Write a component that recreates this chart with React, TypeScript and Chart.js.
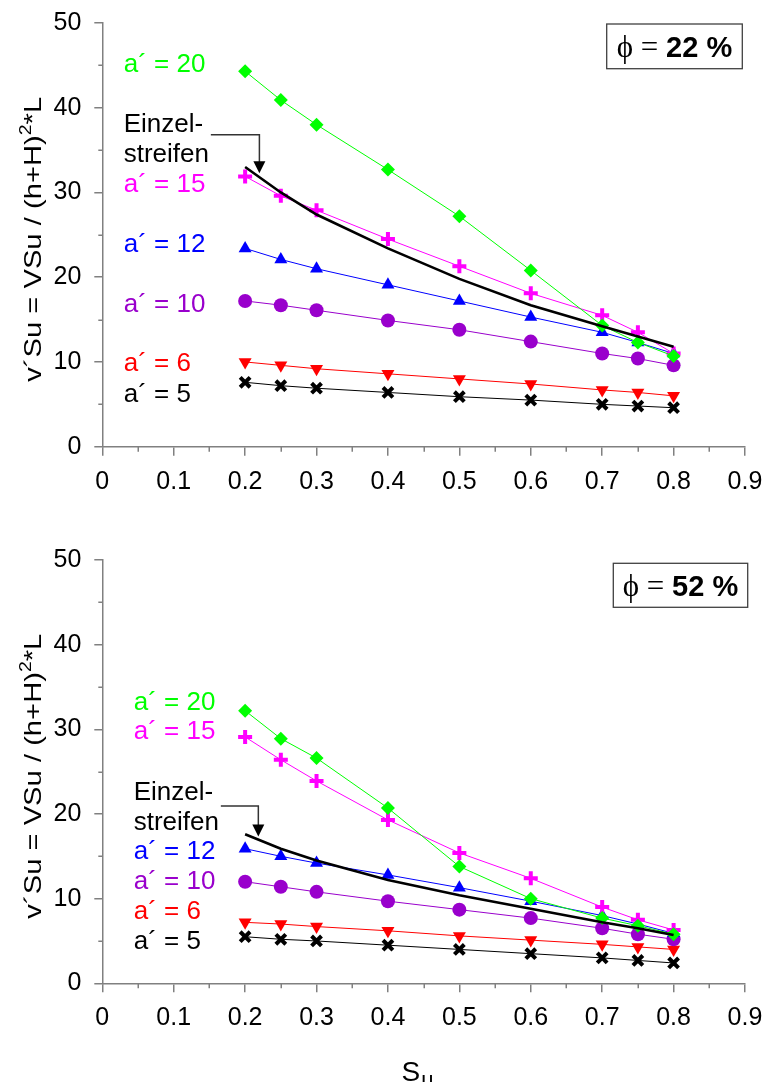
import React, { useEffect, useRef } from 'react';
import { Chart, registerables } from 'chart.js';

Chart.register(...registerables);

// ---------- data ----------
const suValues = [0.2, 0.25, 0.3, 0.4, 0.5, 0.6, 0.7, 0.75, 0.8];
const xTickValues = [0, 0.1, 0.2, 0.3, 0.4, 0.5, 0.6, 0.7, 0.8, 0.9];
const yTickValues = [0, 10, 20, 30, 40, 50];
const xMinorTicks = [0.05, 0.15, 0.25, 0.35, 0.45, 0.55, 0.65, 0.75, 0.85];
const yMinorTicks = [5, 15, 25, 35, 45];

const seriesNames = ['Einzelstreifen', 'a´ = 20', 'a´ = 15', 'a´ = 12', 'a´ = 10', 'a´ = 6', 'a´ = 5'];

// phi = 22 %
const top_einzel = [33.0, 30.0, 27.4, 23.4, 19.8, 16.7, 14.2, 13.0, 11.8];
const top_a20 = [44.3, 40.9, 38.0, 32.7, 27.2, 20.8, 14.3, 12.3, 10.7];
const top_a15 = [31.9, 29.6, 27.9, 24.5, 21.3, 18.1, 15.5, 13.5, 11.0];
const top_a12 = [23.4, 22.1, 21.0, 19.1, 17.2, 15.3, 13.5, 12.3, 11.0];
const top_a10 = [17.2, 16.7, 16.1, 14.9, 13.8, 12.4, 11.0, 10.4, 9.6];
const top_a6 = [10.0, 9.6, 9.2, 8.6, 8.0, 7.4, 6.7, 6.4, 6.0];
const top_a5 = [7.6, 7.2, 6.9, 6.4, 5.9, 5.5, 5.0, 4.8, 4.6];

// phi = 52 %
const bot_einzel = [17.6, 15.9, 14.5, 12.2, 10.4, 8.8, 7.2, 6.5, 5.7];
const bot_a20 = [32.2, 28.9, 26.6, 20.7, 13.8, 10.0, 7.7, 6.8, 5.8];
const bot_a15 = [29.1, 26.4, 23.9, 19.3, 15.4, 12.4, 9.0, 7.5, 6.3];
const bot_a12 = [15.9, 15.0, 14.2, 12.8, 11.3, 9.7, 8.0, 7.0, 5.9];
const bot_a10 = [12.0, 11.4, 10.8, 9.7, 8.7, 7.7, 6.5, 5.8, 5.2];
const bot_a6 = [7.2, 7.0, 6.7, 6.2, 5.6, 5.1, 4.6, 4.3, 4.0];
const bot_a5 = [5.5, 5.2, 5.0, 4.5, 4.0, 3.5, 3.0, 2.7, 2.4];

// ---------- styles ----------
const SANS = '"Liberation Sans", Arial, sans-serif';
const SERIF = '"Liberation Serif", "DejaVu Serif", serif';
const AXIS_COLOR = '#808080';
const C_GREEN = '#00ff00';
const C_MAGENTA = '#ff00ff';
const C_BLUE = '#0000ff';
const C_PURPLE = '#9900cc';
const C_RED = '#ff0000';
const C_BLACK = '#000000';

const seriesStyles = [
  { color: C_BLACK, style: 'circle', radius: 0, bw: 0, rot: 0, lw: 2.6 },
  { color: C_GREEN, style: 'rectRot', radius: 7, bw: 0, rot: 0, lw: 1 },
  { color: C_MAGENTA, style: 'cross', radius: 7, bw: 4, rot: 0, lw: 1 },
  { color: C_BLUE, style: 'triangle', radius: 7.5, bw: 0, rot: 0, lw: 1 },
  { color: C_PURPLE, style: 'circle', radius: 7, bw: 0, rot: 0, lw: 1 },
  { color: C_RED, style: 'triangle', radius: 7.5, bw: 0, rot: 180, lw: 1 },
  { color: C_BLACK, style: 'crossRot', radius: 7, bw: 4, rot: 0, lw: 1 },
];

type Label = { text: string; color: string; x: number; y: number };
type Panel = {
  height: number;
  padTop: number;
  xAxisHeight: number;
  series: number[][];
  labels: Label[];
  arrow: { x1: number; x2: number; y1: number; y2: number };
  phiValue: string;
  box: { dx: number; dy: number; w: number; h: number };
  showXTitle: boolean;
};

const topPanel: Panel = {
  height: 540,
  padTop: 23,
  xAxisHeight: 93.3,
  series: [top_einzel, top_a20, top_a15, top_a12, top_a10, top_a6, top_a5],
  labels: [
    { text: 'a´ = 20', color: C_GREEN, x: 0.03, y: 44.25 },
    { text: 'Einzel-', color: C_BLACK, x: 0.03, y: 37.17 },
    { text: 'streifen', color: C_BLACK, x: 0.03, y: 33.63 },
    { text: 'a´ = 15', color: C_MAGENTA, x: 0.03, y: 30.09 },
    { text: 'a´ = 12', color: C_BLUE, x: 0.03, y: 23.01 },
    { text: 'a´ = 10', color: C_PURPLE, x: 0.03, y: 15.93 },
    { text: 'a´ = 6', color: C_RED, x: 0.03, y: 8.97 },
    { text: 'a´ = 5', color: C_BLACK, x: 0.03, y: 5.31 },
  ],
  arrow: { x1: 0.152, x2: 0.22, y1: 36.82, y2: 32.26 },
  phiValue: '22 %',
  box: { dx: -2.7, dy: 1, w: 135.6, h: 44.7 },
  showXTitle: false,
};

const bottomPanel: Panel = {
  height: 542,
  padTop: 20,
  xAxisHeight: 98.7,
  series: [bot_einzel, bot_a20, bot_a15, bot_a12, bot_a10, bot_a6, bot_a5],
  labels: [
    { text: 'a´ = 20', color: C_GREEN, x: 0.044, y: 32.29 },
    { text: 'a´ = 15', color: C_MAGENTA, x: 0.044, y: 28.82 },
    { text: 'Einzel-', color: C_BLACK, x: 0.044, y: 21.64 },
    { text: 'streifen', color: C_BLACK, x: 0.044, y: 18.16 },
    { text: 'a´ = 12', color: C_BLUE, x: 0.044, y: 14.69 },
    { text: 'a´ = 10', color: C_PURPLE, x: 0.044, y: 11.13 },
    { text: 'a´ = 6', color: C_RED, x: 0.044, y: 7.61 },
    { text: 'a´ = 5', color: C_BLACK, x: 0.044, y: 4.05 },
  ],
  arrow: { x1: 0.166, x2: 0.2185, y1: 20.95, y2: 17.35 },
  phiValue: '52 %',
  box: { dx: 2.7, dy: 3.3, w: 134.4, h: 44 },
  showXTitle: true,
};

const Y_TITLE_LENGTH = 285;

function annotPlugin(panel: Panel) {
  return {
    id: 'annot',
    afterDraw(chart: any) {
      const { ctx, chartArea } = chart;
      const xs = chart.scales.x;
      const ys = chart.scales.y;
      ctx.save();
      // minor ticks
      ctx.strokeStyle = AXIS_COLOR;
      ctx.lineWidth = 1.5;
      xMinorTicks.forEach((v) => {
        const px = Math.round(xs.getPixelForValue(v)) + 0.25;
        ctx.beginPath();
        ctx.moveTo(px, chartArea.bottom);
        ctx.lineTo(px, chartArea.bottom + 5);
        ctx.stroke();
      });
      yMinorTicks.forEach((v) => {
        const py = Math.round(ys.getPixelForValue(v)) + 0.25;
        ctx.beginPath();
        ctx.moveTo(chartArea.left, py);
        ctx.lineTo(chartArea.left - 4, py);
        ctx.stroke();
      });

      // series labels
      ctx.font = `26px ${SANS}`;
      ctx.textBaseline = 'alphabetic';
      ctx.textAlign = 'left';
      panel.labels.forEach((l) => {
        ctx.fillStyle = l.color;
        ctx.fillText(l.text, xs.getPixelForValue(l.x), ys.getPixelForValue(l.y));
      });

      // arrow
      const ax1 = xs.getPixelForValue(panel.arrow.x1);
      const ax2 = xs.getPixelForValue(panel.arrow.x2);
      const ay1 = ys.getPixelForValue(panel.arrow.y1);
      const ay2 = ys.getPixelForValue(panel.arrow.y2);
      ctx.strokeStyle = '#333333';
      ctx.lineWidth = 1.5;
      ctx.beginPath();
      ctx.moveTo(ax1, ay1);
      ctx.lineTo(ax2, ay1);
      ctx.lineTo(ax2, ay2 - 10);
      ctx.stroke();
      ctx.fillStyle = '#000000';
      ctx.beginPath();
      ctx.moveTo(ax2 - 6, ay2 - 12);
      ctx.lineTo(ax2 + 6, ay2 - 12);
      ctx.lineTo(ax2, ay2);
      ctx.closePath();
      ctx.fill();

      // phi box
      const bx = chartArea.right + panel.box.dx - panel.box.w;
      const by = chartArea.top + panel.box.dy;
      ctx.fillStyle = '#ffffff';
      ctx.fillRect(bx, by, panel.box.w, panel.box.h);
      ctx.strokeStyle = '#404040';
      ctx.lineWidth = 1.3;
      ctx.strokeRect(bx, by, panel.box.w, panel.box.h);
      const part1 = 'ϕ = ';
      const part2 = panel.phiValue;
      const f1 = `31px ${SERIF}`;
      const f2 = `bold 29px ${SANS}`;
      ctx.font = f1;
      const w1 = ctx.measureText(part1).width;
      ctx.font = f2;
      const w2 = ctx.measureText(part2).width;
      const tx = bx + (panel.box.w - w1 - w2) / 2;
      const tyBase = by + panel.box.h / 2 + 10.5;
      ctx.fillStyle = '#000000';
      ctx.font = f1;
      ctx.fillText(part1, tx, tyBase);
      ctx.font = f2;
      ctx.fillText(part2, tx + w1, tyBase);

      // y-axis title (rotated, with superscript)
      const parts = [
        { t: 'v´Su = VSu / (h+H)', size: 24, dy: 0 },
        { t: '2', size: 16, dy: -10 },
        { t: '*L', size: 24, dy: 0 },
      ];
      let total = 0;
      const widths = parts.map((p) => {
        ctx.font = `${p.size}px ${SANS}`;
        const w = ctx.measureText(p.t).width;
        total += w;
        return w;
      });
      const stretch = Y_TITLE_LENGTH / total;
      ctx.save();
      ctx.translate(41, (chartArea.top + chartArea.bottom) / 2 + 4.5);
      ctx.rotate(-Math.PI / 2);
      ctx.scale(stretch, 1);
      let cx = -total / 2;
      parts.forEach((p, i) => {
        ctx.font = `${p.size}px ${SANS}`;
        ctx.fillText(p.t, cx, p.dy);
        cx += widths[i];
      });
      ctx.restore();

      // x-axis title
      if (panel.showXTitle) {
        const sx = xs.getPixelForValue(0.419);
        ctx.font = `28px ${SANS}`;
        ctx.fillText('S', sx, chart.height - 1);
        const sw = ctx.measureText('S').width;
        ctx.font = `22px ${SANS}`;
        ctx.fillText('u', sx + sw + 1, chart.height + 5);
      }
      ctx.restore();
    },
  };
}

function makeConfig(panel: Panel): any {
  const datasets = panel.series.map((vals, i) => {
    const s = seriesStyles[i];
    return {
      label: seriesNames[i],
      data: suValues.map((x, j) => ({ x, y: vals[j] })),
      borderColor: s.color,
      backgroundColor: s.color,
      borderWidth: s.lw,
      pointStyle: s.style,
      pointRadius: s.radius,
      pointBorderWidth: s.bw,
      pointBorderColor: s.color,
      pointBackgroundColor: s.color,
      pointRotation: s.rot,
      tension: 0,
      fill: false,
      clip: false,
    };
  });
  return {
    type: 'line',
    data: { datasets },
    options: {
      animation: false,
      responsive: false,
      maintainAspectRatio: false,
      events: [],
      layout: { padding: { left: 0, right: 22, top: panel.padTop, bottom: 0 } },
      plugins: { legend: { display: false }, tooltip: { enabled: false } },
      scales: {
        x: {
          type: 'linear',
          min: 0,
          max: 0.9,
          afterBuildTicks: (scale: any) => {
            scale.ticks = xTickValues.map((v) => ({ value: v }));
          },
          afterFit: (scale: any) => {
            scale.height = panel.xAxisHeight;
            scale.paddingLeft = 0;
            scale.paddingRight = 0;
          },
          ticks: {
            autoSkip: false,
            maxRotation: 0,
            padding: 11,
            color: '#000000',
            font: { family: SANS, size: 25 },
            callback: (v: number) => String(Math.round(v * 10) / 10),
          },
          grid: { drawOnChartArea: false, drawTicks: true, tickLength: 9, color: AXIS_COLOR, lineWidth: 1.5 },
          border: { display: true, color: AXIS_COLOR, width: 1.5 },
        },
        y: {
          type: 'linear',
          min: 0,
          max: 50,
          afterBuildTicks: (scale: any) => {
            scale.ticks = yTickValues.map((v) => ({ value: v }));
          },
          afterFit: (scale: any) => {
            scale.width = 102.3;
            scale.paddingTop = 0;
            scale.paddingBottom = 0;
          },
          ticks: {
            autoSkip: false,
            padding: 13,
            color: '#000000',
            font: { family: SANS, size: 25 },
            callback: (v: number) => String(v),
          },
          grid: { drawOnChartArea: false, drawTicks: true, tickLength: 8, color: AXIS_COLOR, lineWidth: 1.5 },
          border: { display: true, color: AXIS_COLOR, width: 1.5 },
        },
      },
    },
    plugins: [annotPlugin(panel)],
  };
}

function PanelChart({ panel, top }: { panel: Panel; top: number }) {
  const ref = useRef<HTMLCanvasElement | null>(null);
  useEffect(() => {
    if (!ref.current) return;
    const chart = new Chart(ref.current, makeConfig(panel));
    return () => chart.destroy();
  }, [panel]);
  return (
    <canvas
      ref={ref}
      width={767}
      height={panel.height}
      style={{ position: 'absolute', left: 0, top, width: 767, height: panel.height, display: 'block' }}
    />
  );
}

export default function App() {
  return (
    <div style={{ position: 'absolute', left: 0, top: 0, width: 767, height: 1082, background: '#ffffff', overflow: 'hidden' }}>
      <PanelChart panel={topPanel} top={0} />
      <PanelChart panel={bottomPanel} top={540} />
    </div>
  );
}
